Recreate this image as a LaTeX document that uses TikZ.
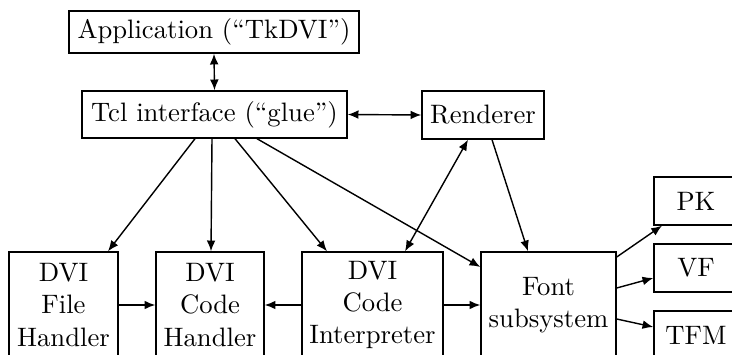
\documentclass[tikz,border=0pt]{standalone}
\usetikzlibrary{arrows.meta}
\newlength\pxu
\setlength\pxu{0.39pt}
\begin{document}
\begin{tikzpicture}[x=0.39pt,y=-0.39pt,
  font=\fontsize{10.4pt}{12.5pt}\selectfont,
  box/.style={draw,line width=0.55pt,inner sep=0pt,align=center},
  arr/.style={line width=0.55pt,-{Latex[length=4.2pt,width=3.4pt]}},
  darr/.style={line width=0.55pt,{Latex[length=4.2pt,width=3.4pt]}-{Latex[length=4.2pt,width=3.4pt]}}]
\useasboundingbox (0,0) rectangle (732,355);
\clip (0,0) rectangle (732,355);
\node[box,minimum width=290\pxu,minimum height=42\pxu] (app) at (214,32) {Application (``TkDVI'')};
\node[box,minimum width=265\pxu,minimum height=47\pxu] (tcl) at (214.5,114.5) {Tcl interface (``glue'')};
\node[box,minimum width=122\pxu,minimum height=48\pxu] (rend) at (483,115) {Renderer};
\node[box,minimum width=109\pxu,minimum height=106\pxu] (fh) at (63.5,305) {DVI\\File\\Handler};
\node[box,minimum width=108\pxu,minimum height=106\pxu] (ch) at (210,305) {DVI\\Code\\Handler};
\node[box,minimum width=141\pxu,minimum height=106\pxu] (ci) at (372.5,305) {DVI\\Code\\Interpreter};
\node[box,minimum width=135\pxu,minimum height=106\pxu] (fs) at (548.5,305) {Font\\subsystem};
\node[box,minimum width=84\pxu,minimum height=48\pxu] (pk) at (696,201) {PK};
\node[box,minimum width=84\pxu,minimum height=48\pxu] (vf) at (696,268) {VF};
\node[box,minimum width=84\pxu,minimum height=48\pxu] (tfm) at (696,335) {TFM};
\draw[darr] (app.south) -- (tcl.north);
\draw[darr] (tcl.east) -- (rend.west);
\draw[arr] ([xshift=-19.5\pxu]tcl.south) -- ([xshift=44.5\pxu]fh.north);
\draw[arr] ([xshift=-2.5\pxu]tcl.south) -- ([xshift=1\pxu]ch.north);
\draw[arr] ([xshift=20.5\pxu]tcl.south) -- ([xshift=-45.5\pxu]ci.north);
\draw[arr] ([xshift=42.5\pxu]tcl.south) -- ([yshift=38\pxu]fs.west);
\draw[darr] ([xshift=-15\pxu]rend.south) -- ([xshift=32.5\pxu]ci.north);
\draw[arr] ([xshift=9\pxu]rend.south) -- ([xshift=-20.5\pxu]fs.north);
\draw[arr] (fh.east) -- (ch.west);
\draw[arr] (ci.west) -- (ch.east);
\draw[arr] (ci.east) -- (fs.west);
\draw[arr] ([yshift=48\pxu]fs.east) -- ([xshift=-34\pxu]pk.south);
\draw[arr] ([yshift=17\pxu]fs.east) -- ([yshift=-10\pxu]vf.west);
\draw[arr] ([yshift=-14\pxu]fs.east) -- ([yshift=8\pxu]tfm.west);
\end{tikzpicture}
\end{document}
